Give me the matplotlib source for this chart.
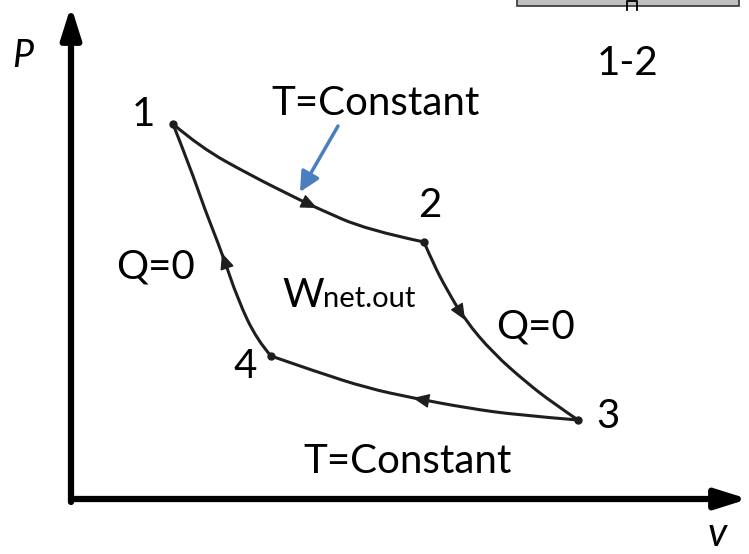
"""Carnot cycle on a P-v diagram, drawn in pixel-like coordinates."""
import numpy as np
import matplotlib.pyplot as plt
from matplotlib.patches import Rectangle, PathPatch
from matplotlib.path import Path

plt.rcParams['font.family'] = ['Lato', 'DejaVu Sans']

W, H = 749, 554

# state points (v, P), in image coordinates
state_labels = ['1', '2', '3', '4']
state_v = [173, 424, 578, 271]
state_p = [124, 242, 420, 356]

# process curves
curve_12_v = [173, 200, 250, 300, 317, 367, 424]
curve_12_p = [124, 147, 175, 200, 208, 230, 242]
curve_23_v = [424, 433, 447, 465, 493, 527, 553, 578]
curve_23_p = [242, 263, 290, 320, 353, 383, 403, 420]
curve_34_v = [578, 517, 467, 413, 367, 317, 271]
curve_34_p = [420, 415, 408, 398, 388, 372, 356]
curve_41_v = [271, 257, 238, 222, 205, 190, 173]
curve_41_p = [356, 340, 300, 253, 210, 167, 124]
curves = [(curve_12_v, curve_12_p, 4), (curve_23_v, curve_23_p, 3),
          (curve_34_v, curve_34_p, 3), (curve_41_v, curve_41_p, 3)]

fig = plt.figure(figsize=(W / 100, H / 100), dpi=100)
ax = fig.add_axes([0, 0, 1, 1])
ax.set_xlim(0, W)
ax.set_ylim(H, 0)
ax.axis('off')

line_c = '#1e1e1e'


def smooth_path(xs, ys):
    # quadratic bezier through segment midpoints, sample points as controls
    pts = np.column_stack([xs, ys]).astype(float)
    verts = [pts[0]]
    codes = [Path.MOVETO]
    for i in range(1, len(pts) - 1):
        end = pts[i + 1] if i == len(pts) - 2 else (pts[i] + pts[i + 1]) / 2
        verts += [pts[i], end]
        codes += [Path.CURVE3, Path.CURVE3]
    if len(pts) == 2:
        verts.append(pts[1])
        codes.append(Path.LINETO)
    return Path(verts, codes)


# axes arrows
ax_arrow = dict(arrowstyle='-|>,head_length=0.95,head_width=0.3',
                lw=4.5, color='black', mutation_scale=20, shrinkA=0, shrinkB=0)
ax.annotate('', xy=(71, 6), xytext=(71, 502), arrowprops=ax_arrow)
ax.annotate('', xy=(748, 499), xytext=(71, 499), arrowprops=ax_arrow)

# cycle curves with direction arrows
for cv, cp, k in curves:
    ax.add_patch(PathPatch(smooth_path(cv, cp), fill=False, edgecolor=line_c,
                           lw=2.2, capstyle='round'))
    tip = np.array([cv[k], cp[k]], dtype=float)
    prev = np.array([cv[k - 1], cp[k - 1]], dtype=float)
    d = (tip - prev) / np.linalg.norm(tip - prev)
    ax.annotate('', xy=tuple(tip), xytext=tuple(tip - d * 3),
                arrowprops=dict(arrowstyle='-|>,head_length=0.5,head_width=0.22',
                                color=line_c, lw=1, mutation_scale=20,
                                shrinkA=0, shrinkB=0))

ax.plot(state_v, state_p, 'o', color=line_c, markersize=5)

# blue pointer to the isotherm
ax.annotate('', xy=(300, 192), xytext=(338, 126),
            arrowprops=dict(arrowstyle='-|>,head_length=0.6,head_width=0.3',
                            lw=2.5, color='#4a7ebf', mutation_scale=20,
                            shrinkA=0, shrinkB=0))

# grey box at the top right
ax.add_patch(Rectangle((517, -10), 222, 16, facecolor='#c0c0c0',
                       edgecolor='#333333', lw=1.2))
ax.plot([627, 627, 637, 637], [10, 1, 1, 10], color='black', lw=1.3)

fs = 29
# labels
ax.text(12, 67, 'P', fontsize=27, style='italic', ha='left', va='baseline')
ax.text(717, 553, 'v', fontsize=29, style='italic', ha='center', va='bottom')
ax.text(143, 126, '1', fontsize=fs, ha='center', va='baseline')
ax.text(430, 217, '2', fontsize=fs, ha='center', va='baseline')
ax.text(608, 428, '3', fontsize=fs, ha='center', va='baseline')
ax.text(245, 378, '4', fontsize=fs, ha='center', va='baseline')
ax.text(376, 115, 'T=Constant', fontsize=fs, ha='center', va='baseline')
ax.text(408, 473, 'T=Constant', fontsize=fs, ha='center', va='baseline')
ax.text(155, 279, 'Q=0', fontsize=fs, ha='center', va='baseline')
ax.text(535, 339, 'Q=0', fontsize=fs, ha='center', va='baseline')
ax.text(628, 75, '1-2', fontsize=fs, ha='center', va='baseline')
ax.text(282, 307, 'W', fontsize=fs, ha='left', va='baseline')
ax.text(323, 307, 'net.out', fontsize=21, ha='left', va='baseline')

fig.savefig('out.png', dpi=100, facecolor='white')
